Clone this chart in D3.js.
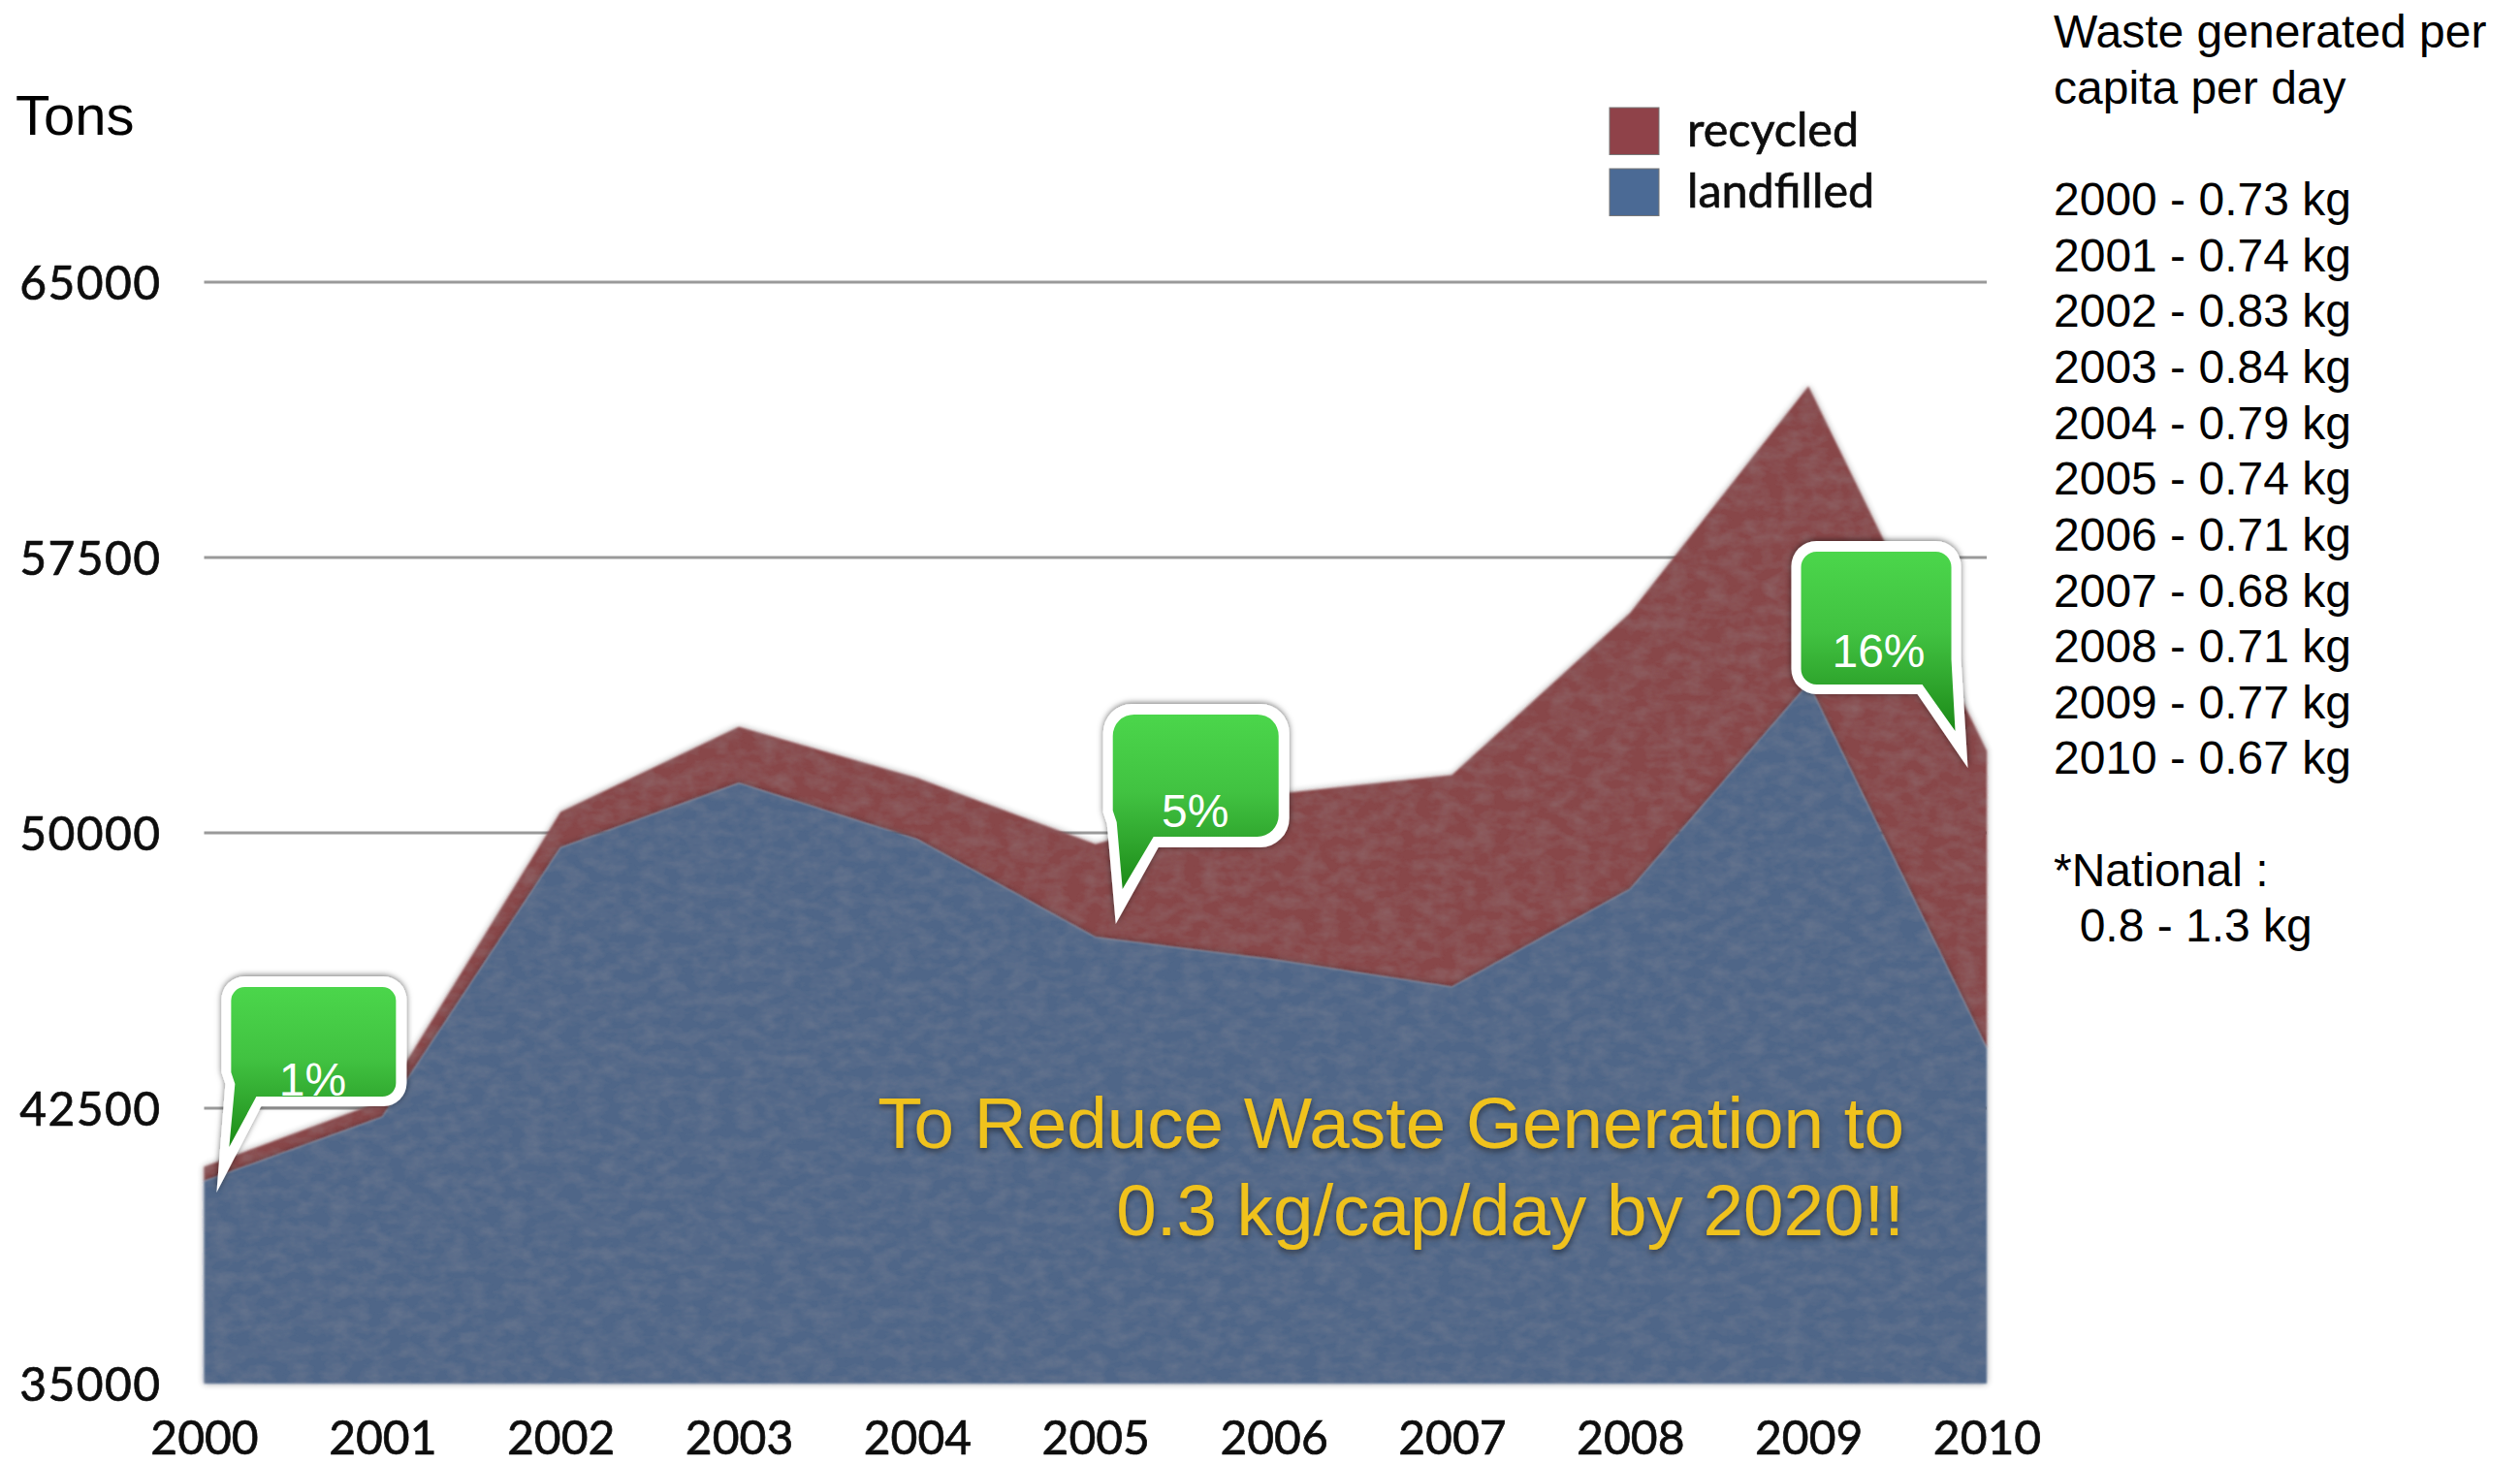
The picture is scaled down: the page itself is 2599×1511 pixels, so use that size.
<!DOCTYPE html>
<html><head><meta charset="utf-8">
<script src="https://cdn.jsdelivr.net/npm/d3@7"></script>
<style>html,body{margin:0;padding:0;background:#fff}svg{display:block}</style>
</head><body><svg id="c" width="2599" height="1511"></svg>
<script>
const years = [2000,2001,2002,2003,2004,2005,2006,2007,2008,2009,2010];
const landfilled = [40510,42260,49600,51355,49825,47157,46545,45800,48470,54070,44140];
const recycled = [390,440,970,1530,1665,2533,4505,5770,7520,8090,8090];
const yTicks = [35000,42500,50000,57500,65000];
const perCapita = ["0.73","0.74","0.83","0.84","0.79","0.74","0.71","0.68","0.71","0.77","0.67"];
const calloutLabels = ["1%","5%","16%"];
const calloutYears = [2000.07,2005.114,2009.894];
const calloutValues = [40200,47520,51770];
const seriesNames = ["recycled","landfilled"];

// layout of each speech bubble relative to its tip
const bubbleLayouts = [
 {side:"l",outer:{tx:0,ty:0,l:5,r:196,t:-223,b:-89,rad:24,base:46,joint:-112},inner:{tx:13,ty:-47,l:15,r:185,t:-212,b:-99,rad:14,base:41,joint:-112},text:[99,-101]},
 {side:"l",outer:{tx:0,ty:0,l:-13,r:179,t:-227,b:-79,rad:30,base:44,joint:-103},inner:{tx:7,ty:-36,l:-3,r:168,t:-216,b:-90,rad:22,base:39,joint:-105},text:[82,-101]},
 {side:"r",outer:{tx:0,ty:0,l:-182,r:-7,t:-234,b:-76,rad:26,base:-52,joint:-112},inner:{tx:-13,ty:-38,l:-172,r:-17,t:-223,b:-86,rad:16,base:-47,joint:-112},text:[-92,-105]}
];

const svg = d3.select("#c");
const x = d3.scaleLinear().domain([2000,2010]).range([210.5,2049]);
const y = d3.scaleLinear().domain([35000,65000]).range([1427,291]);
const defs = svg.append("defs");

function texture(id,seed){
  const f = defs.append("filter").attr("id",id).attr("x","-3%").attr("y","-3%").attr("width","106%").attr("height","106%");
  f.append("feGaussianBlur").attr("in","SourceGraphic").attr("stdDeviation",1.2).attr("result","soft");
  f.append("feTurbulence").attr("type","fractalNoise").attr("baseFrequency","0.05 0.08").attr("numOctaves",3).attr("seed",seed).attr("result","n");
  f.append("feColorMatrix").attr("in","n").attr("type","matrix")
   .attr("values","0 0 0 0 0.36  0 0 0 0 0.36  0 0 0 0 0.38  0.3 0 0 0 -0.1").attr("result","noiseA");
  f.append("feComposite").attr("in","noiseA").attr("in2","soft").attr("operator","in").attr("result","grain");
  f.append("feGaussianBlur").attr("in","SourceAlpha").attr("stdDeviation",3.5).attr("result","sh");
  f.append("feOffset").attr("in","sh").attr("dy",0).attr("result","sh2");
  f.append("feComponentTransfer").attr("in","sh2").attr("result","sh3").append("feFuncA").attr("type","linear").attr("slope",0.4);
  const m = f.append("feMerge");
  ["sh3","soft","grain"].forEach(k=>m.append("feMergeNode").attr("in",k));
}
texture("texA",3); texture("texB",8);

const soft = defs.append("filter").attr("id","soft");
soft.append("feGaussianBlur").attr("stdDeviation",0.7);

const bs = defs.append("filter").attr("id","bshadow").attr("x","-15%").attr("y","-15%").attr("width","130%").attr("height","130%");
bs.append("feDropShadow").attr("dx",0).attr("dy",-1).attr("stdDeviation",3).attr("flood-color","#000").attr("flood-opacity",0.55);

const ts = defs.append("filter").attr("id","tshadow").attr("x","-5%").attr("y","-10%").attr("width","110%").attr("height","125%");
ts.append("feDropShadow").attr("dx",0).attr("dy",3).attr("stdDeviation",3).attr("flood-color","#000").attr("flood-opacity",0.5);

const grad = defs.append("linearGradient").attr("id","green").attr("x1",0).attr("y1",0).attr("x2",0).attr("y2",1);
[[0,"#4bd64b"],[0.45,"#41c241"],[0.75,"#2ea42c"],[1,"#1b8a16"]].forEach(s=>grad.append("stop").attr("offset",s[0]).attr("stop-color",s[1]));

// gridlines
svg.append("g").selectAll("line").data(yTicks.slice(1)).join("line")
  .attr("x1",x(2000)).attr("x2",x(2010)).attr("y1",d=>y(d)).attr("y2",d=>y(d))
  .attr("stroke","#9a9a9a").attr("stroke-width",3);

// stacked areas
const rows = years.map((yr,i)=>({year:yr,landfilled:landfilled[i],recycled:recycled[i]}));
const stacked = d3.stack().keys(["landfilled","recycled"])(rows);
const area = d3.area().x(d=>x(d.data.year)).y0(d=>y(Math.max(d[0],35000))).y1(d=>y(d[1]));
const fills = {recycled:"#88464a",landfilled:"#4f6688"};
svg.append("path").datum(stacked[1]).attr("d",area).attr("fill",fills.recycled).attr("filter","url(#texA)");
svg.append("path").datum(stacked[0]).attr("d",area).attr("fill",fills.landfilled).attr("filter","url(#texB)");

// axes
const axisFont = "Lato, 'Open Sans', sans-serif";
const ya = svg.append("g").attr("transform",`translate(${x(2000)},0)`).call(d3.axisLeft(y).tickValues(yTicks).tickSize(0).tickPadding(44).tickFormat(d3.format("d")));
const xa = svg.append("g").attr("transform",`translate(0,${y(35000)})`).call(d3.axisBottom(x).tickValues(years).tickSize(0).tickPadding(39).tickFormat(d3.format("d")));
[ya,xa].forEach(g=>{g.select(".domain").remove();
  g.selectAll("text").attr("font-family",axisFont).attr("font-size",48).attr("fill","#111").attr("stroke","#111").attr("stroke-width",0.7).attr("filter","url(#soft)");});
ya.selectAll("text").attr("dy","0.37em").attr("letter-spacing",1.4);

// legend
const legY = d3.scalePoint().domain(seriesNames).range([111,174]);
const leg = svg.append("g");
leg.selectAll("rect").data(seriesNames).join("rect")
  .attr("x",1660).attr("y",d=>legY(d)).attr("width",51).attr("height",48.5)
  .attr("fill",d=>d==="recycled"?"#8f4248":"#4c6a95").attr("stroke","#777").attr("stroke-width",1).attr("filter","url(#soft)");
leg.selectAll("text").data(seriesNames).join("text")
  .attr("x",1740).attr("y",d=>legY(d)+40).text(d=>d)
  .attr("font-family",axisFont).attr("font-size",48.5).attr("fill","#111").attr("stroke","#111").attr("stroke-width",0.7).attr("filter","url(#soft)");

// tons
svg.append("text").attr("x",16).attr("y",139).text("Tons").attr("font-family","'Liberation Sans',Arial,sans-serif").attr("font-size",58).attr("fill","#000");

// goal text
const goal = ["To Reduce Waste Generation to","0.3 kg/cap/day by 2020!!"];
svg.append("g").attr("filter","url(#tshadow)").selectAll("text").data(goal).join("text")
  .attr("x",1964).attr("y",(d,i)=>1184+i*90).attr("text-anchor","end").text(d=>d)
  .attr("font-family","'Liberation Sans',Arial,sans-serif").attr("font-size",74.6).attr("fill","#f0c21c");

// right-hand notes
const noteLines = ["Waste generated per","capita per day",""]
  .concat(years.map((yr,i)=>`${yr} - ${perCapita[i]} kg`))
  .concat(["","*National :","\u00a0\u00a00.8 - 1.3 kg"]);
svg.append("g").selectAll("text").data(noteLines).join("text")
  .attr("x",2118).attr("y",(d,i)=>49+i*57.65).text(d=>d)
  .attr("font-family","'Liberation Sans',Arial,sans-serif").attr("font-size",48).attr("fill","#000");

// callouts
function bubblePath(s,side){
  const p = d3.path();
  p.moveTo(s.tx,s.ty);
  if(side==="l"){
    p.lineTo(s.l+4,s.joint);
    p.lineTo(s.l,s.joint-12);
    p.lineTo(s.l,s.t+s.rad);
    p.arcTo(s.l,s.t,s.l+s.rad,s.t,s.rad);
    p.lineTo(s.r-s.rad,s.t);
    p.arcTo(s.r,s.t,s.r,s.t+s.rad,s.rad);
    p.lineTo(s.r,s.b-s.rad);
    p.arcTo(s.r,s.b,s.r-s.rad,s.b,s.rad);
    p.lineTo(s.base,s.b);
  } else {
    p.lineTo(s.r,s.joint);
    p.lineTo(s.r,s.t+s.rad);
    p.arcTo(s.r,s.t,s.r-s.rad,s.t,s.rad);
    p.lineTo(s.l+s.rad,s.t);
    p.arcTo(s.l,s.t,s.l,s.t+s.rad,s.rad);
    p.lineTo(s.l,s.b-s.rad);
    p.arcTo(s.l,s.b,s.l+s.rad,s.b,s.rad);
    p.lineTo(s.base,s.b);
  }
  p.closePath();
  return p.toString();
}
const cg = svg.append("g").selectAll("g").data(calloutLabels).join("g")
  .attr("transform",(d,i)=>`translate(${x(calloutYears[i])},${y(calloutValues[i])})`);
cg.append("path").attr("d",(d,i)=>bubblePath(bubbleLayouts[i].outer,bubbleLayouts[i].side)).attr("fill","#fff").attr("filter","url(#bshadow)");
cg.append("path").attr("d",(d,i)=>bubblePath(bubbleLayouts[i].inner,bubbleLayouts[i].side)).attr("fill","url(#green)");
cg.append("text").text(d=>d).attr("text-anchor","middle")
  .attr("x",(d,i)=>bubbleLayouts[i].text[0]).attr("y",(d,i)=>bubbleLayouts[i].text[1]+1)
  .attr("font-family","'Liberation Sans',Arial,sans-serif").attr("font-size",48).attr("fill","#fff");
</script></body></html>
